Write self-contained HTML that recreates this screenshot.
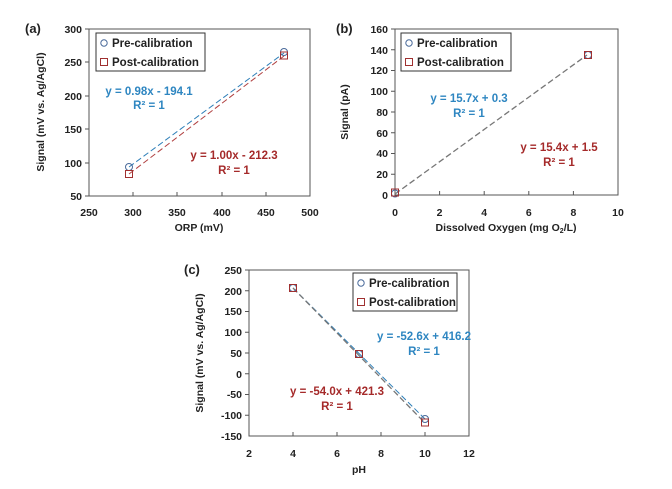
<!DOCTYPE html><html><head><style>body{margin:0;background:#fff}svg{font-family:"Liberation Sans",sans-serif;font-weight:bold}.l{font-size:11.5px}</style></head><body>
<svg width="672" height="484" viewBox="0 0 672 484" xmlns="http://www.w3.org/2000/svg">
<g font-size="10.5" fill="#222">
<!-- (a) -->
<text x="25" y="33" font-size="13">(a)</text>
<rect x="89" y="29" width="221" height="167" fill="none" stroke="#555"/>
<g stroke="#555"><line x1="89" y1="196" x2="310" y2="196"/><line x1="89" y1="29" x2="89" y2="196"/>
<line x1="133" y1="196" x2="133" y2="192"/><line x1="177" y1="196" x2="177" y2="192"/><line x1="222" y1="196" x2="222" y2="192"/><line x1="266" y1="196" x2="266" y2="192"/>
<line x1="85" y1="29" x2="89" y2="29"/><line x1="85" y1="62" x2="89" y2="62"/><line x1="85" y1="96" x2="89" y2="96"/><line x1="85" y1="129" x2="89" y2="129"/><line x1="85" y1="163" x2="89" y2="163"/><line x1="85" y1="196" x2="89" y2="196"/></g>
<g text-anchor="end"><text x="82" y="33">300</text><text x="82" y="66">250</text><text x="82" y="100">200</text><text x="82" y="133">150</text><text x="82" y="167">100</text><text x="82" y="200">50</text></g>
<g text-anchor="middle"><text x="89" y="216">250</text><text x="133" y="216">300</text><text x="177" y="216">350</text><text x="222" y="216">400</text><text x="266" y="216">450</text><text x="310" y="216">500</text>
<text x="199" y="231">ORP (mV)</text>
<text transform="translate(44,112) rotate(-90)">Signal (mV vs. Ag/AgCl)</text></g>
<line x1="129" y1="167" x2="284" y2="53" stroke="#2e7fb8" stroke-dasharray="6,3"/>
<line x1="129" y1="174" x2="284" y2="56" stroke="#b04040" stroke-dasharray="6,3"/>
<circle cx="129" cy="167" r="3.5" fill="none" stroke="#4a6a9a"/><circle cx="284" cy="52" r="3.5" fill="none" stroke="#4a6a9a"/>
<rect x="125.5" y="170.5" width="7" height="7" fill="none" stroke="#a03030"/><rect x="280.5" y="52" width="7" height="7" fill="none" stroke="#a03030"/>
<rect x="96" y="33" width="109" height="38" fill="#fff" stroke="#333"/>
<circle cx="104" cy="43" r="3.2" fill="none" stroke="#4a6a9a"/><rect x="100.5" y="58.5" width="7" height="7" fill="none" stroke="#a03030"/>
<text class="l" x="112" y="47">Pre-calibration</text><text class="l" x="112" y="66">Post-calibration</text>
<g text-anchor="middle" class="l"><text x="149" y="95" fill="#2e86c1">y = 0.98x - 194.1</text><text x="149" y="109" fill="#2e86c1">R² = 1</text>
<text x="234" y="159" fill="#a52a2a">y = 1.00x - 212.3</text><text x="234" y="174" fill="#a52a2a">R² = 1</text></g>

<!-- (b) -->
<text x="336" y="33" font-size="13">(b)</text>
<rect x="395" y="29" width="223" height="166" fill="none" stroke="#555"/>
<g stroke="#555"><line x1="439.6" y1="195" x2="439.6" y2="191"/><line x1="484.2" y1="195" x2="484.2" y2="191"/><line x1="528.8" y1="195" x2="528.8" y2="191"/><line x1="573.4" y1="195" x2="573.4" y2="191"/>
<line x1="391" y1="29" x2="395" y2="29"/><line x1="391" y1="49.75" x2="395" y2="49.75"/><line x1="391" y1="70.5" x2="395" y2="70.5"/><line x1="391" y1="91.25" x2="395" y2="91.25"/><line x1="391" y1="112" x2="395" y2="112"/><line x1="391" y1="132.75" x2="395" y2="132.75"/><line x1="391" y1="153.5" x2="395" y2="153.5"/><line x1="391" y1="174.25" x2="395" y2="174.25"/></g>
<g text-anchor="end"><text x="388" y="33">160</text><text x="388" y="54">140</text><text x="388" y="74">120</text><text x="388" y="95">100</text><text x="388" y="116">80</text><text x="388" y="137">60</text><text x="388" y="157">40</text><text x="388" y="178">20</text><text x="388" y="199">0</text></g>
<g text-anchor="middle"><text x="395" y="216">0</text><text x="439.6" y="216">2</text><text x="484.2" y="216">4</text><text x="528.8" y="216">6</text><text x="573.4" y="216">8</text><text x="618" y="216">10</text>
<text x="506" y="231">Dissolved Oxygen (mg O<tspan font-size="7" dy="2">2</tspan><tspan dy="-2">/L)</tspan></text>
<text transform="translate(348,112) rotate(-90)">Signal (pA)</text></g>
<line x1="395" y1="194" x2="587" y2="55" stroke="#777" stroke-dasharray="6,3" stroke-width="1.3"/>
<circle cx="395" cy="193.5" r="3.5" fill="none" stroke="#4a6a9a"/><circle cx="588" cy="55" r="3.5" fill="none" stroke="#4a6a9a"/>
<rect x="391.5" y="189" width="7" height="7" fill="none" stroke="#a03030"/><rect x="584.5" y="51.5" width="7" height="7" fill="none" stroke="#a03030"/>
<rect x="401" y="33" width="110" height="38" fill="#fff" stroke="#333"/>
<circle cx="409" cy="43" r="3.2" fill="none" stroke="#4a6a9a"/><rect x="405.5" y="58.5" width="7" height="7" fill="none" stroke="#a03030"/>
<text class="l" x="417" y="47">Pre-calibration</text><text class="l" x="417" y="66">Post-calibration</text>
<g text-anchor="middle" class="l"><text x="469" y="102" fill="#2e86c1">y = 15.7x + 0.3</text><text x="469" y="117" fill="#2e86c1">R² = 1</text>
<text x="559" y="151" fill="#a52a2a">y = 15.4x + 1.5</text><text x="559" y="166" fill="#a52a2a">R² = 1</text></g>

<!-- (c) -->
<text x="184" y="274" font-size="13">(c)</text>
<rect x="249" y="270" width="220" height="166" fill="none" stroke="#555"/>
<g stroke="#555"><line x1="293" y1="436" x2="293" y2="432"/><line x1="337" y1="436" x2="337" y2="432"/><line x1="381" y1="436" x2="381" y2="432"/><line x1="425" y1="436" x2="425" y2="432"/>
<line x1="245" y1="270" x2="249" y2="270"/><line x1="245" y1="290.75" x2="249" y2="290.75"/><line x1="245" y1="311.5" x2="249" y2="311.5"/><line x1="245" y1="332.25" x2="249" y2="332.25"/><line x1="245" y1="353" x2="249" y2="353"/><line x1="245" y1="373.75" x2="249" y2="373.75"/><line x1="245" y1="394.5" x2="249" y2="394.5"/><line x1="245" y1="415.25" x2="249" y2="415.25"/></g>
<g text-anchor="end"><text x="242" y="274">250</text><text x="242" y="295">200</text><text x="242" y="315">150</text><text x="242" y="336">100</text><text x="242" y="357">50</text><text x="242" y="378">0</text><text x="242" y="398">-50</text><text x="242" y="419">-100</text><text x="242" y="440">-150</text></g>
<g text-anchor="middle"><text x="249" y="457">2</text><text x="293" y="457">4</text><text x="337" y="457">6</text><text x="381" y="457">8</text><text x="425" y="457">10</text><text x="469" y="457">12</text>
<text x="359" y="473">pH</text>
<text transform="translate(203,353) rotate(-90)">Signal (mV vs. Ag/AgCl)</text></g>
<line x1="293" y1="288" x2="425" y2="419" stroke="#2e7fb8" stroke-dasharray="6,3"/>
<line x1="293" y1="288" x2="425" y2="423" stroke="#777" stroke-dasharray="6,3" stroke-width="1.3"/>
<circle cx="293" cy="288" r="3.5" fill="none" stroke="#4a6a9a"/><circle cx="359" cy="354" r="3.5" fill="none" stroke="#4a6a9a"/><circle cx="425" cy="419" r="3.5" fill="none" stroke="#4a6a9a"/>
<rect x="289.5" y="284.5" width="7" height="7" fill="none" stroke="#a03030"/><rect x="355.5" y="350.5" width="7" height="7" fill="none" stroke="#a03030"/><rect x="421.5" y="419" width="7" height="7" fill="none" stroke="#a03030"/>
<rect x="353" y="273" width="104" height="38" fill="#fff" stroke="#333"/>
<circle cx="361" cy="283" r="3.2" fill="none" stroke="#4a6a9a"/><rect x="357.5" y="298.5" width="7" height="7" fill="none" stroke="#a03030"/>
<text class="l" x="369" y="287">Pre-calibration</text><text class="l" x="369" y="306">Post-calibration</text>
<g text-anchor="middle" class="l"><text x="424" y="340" fill="#2e86c1">y = -52.6x + 416.2</text><text x="424" y="355" fill="#2e86c1">R² = 1</text>
<text x="337" y="395" fill="#a52a2a">y = -54.0x + 421.3</text><text x="337" y="410" fill="#a52a2a">R² = 1</text></g>
</g>
</svg>
</body></html>
